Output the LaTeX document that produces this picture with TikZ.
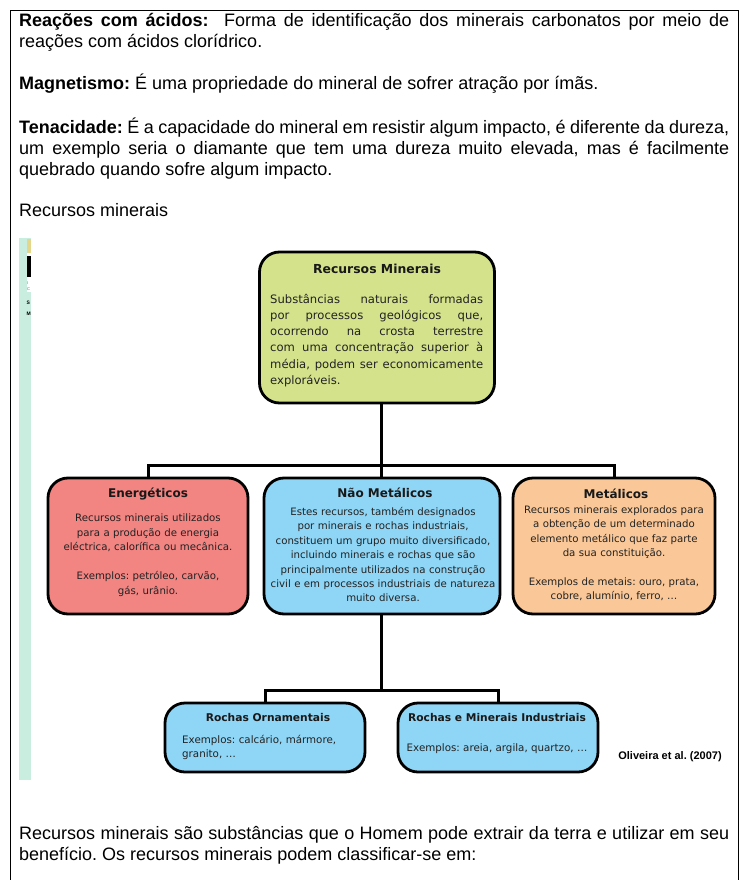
\documentclass[tikz,border=0pt]{standalone}
\usepackage{fontspec}
\setmainfont{Liberation Sans}
\newfontfamily\dv{DejaVu Sans}
\frenchspacing
\definecolor{cgreen}{HTML}{D5E28C}
\definecolor{cred}{HTML}{F28482}
\definecolor{cblue}{HTML}{8FD5F5}
\definecolor{cpeach}{HTML}{FAC898}
\definecolor{cmint}{HTML}{C9EEDF}
\definecolor{cyel}{HTML}{E4D68A}
\definecolor{ctxt}{HTML}{222222}
\begin{document}
\begin{tikzpicture}[x=1pt,y=-1pt,
  para/.style={anchor=base west, inner sep=0pt, text width=710pt, align=justify,
    font=\fontsize{18}{21}\selectfont\frenchspacing},
  box/.style={draw=black, line width=2.8pt, rounded corners=20pt, inner sep=0pt},
  ttl/.style={anchor=base, inner sep=0pt, font=\dv\bfseries\fontsize{12}{14}\selectfont, text=black!90},
  body/.style={anchor=base, inner sep=0pt, align=center, text=ctxt,
    font=\dv\fontsize{10.2}{14.4}\selectfont\frenchspacing},
  conn/.style={line width=3pt, draw=black}
]
\useasboundingbox (0,0) rectangle (747,880);
% frame
\draw[line width=1pt] (10.5,880) -- (10.5,10.5) -- (738,10.5) -- (738,880);

% top text
\node[para] (p1) at (19,27) {\textbf{Reações com ácidos:}\ \ Forma de identificação dos minerais carbonatos por meio de\linebreak reações com ácidos clorídrico.};
\node[para] (p2) at (19,90) {\textbf{Magnetismo:} É uma propriedade do mineral de sofrer atração por ímãs.};
\node[para] (p3) at (19,133) {\textbf{Tenacidade:} É a capacidade do mineral em resistir algum impacto, é diferente da dureza,\linebreak um exemplo seria o diamante que tem uma dureza muito elevada, mas é facilmente\linebreak quebrado quando sofre algum impacto.};
\node[para] (p4) at (19,216) {Recursos minerais};

% left strip of the picture
\fill[cmint] (19,238) rectangle (31,780);
\fill[white] (27,239) rectangle (31,292);
\fill[cyel] (27,239) rectangle (31,253);
\fill[black] (27,256) rectangle (31,277);
\node[anchor=base west, inner sep=0pt, font=\fontsize{4}{4}\selectfont, text=black!60] (s1) at (27,284) {I};
\node[anchor=base west, inner sep=0pt, font=\fontsize{4}{4}\selectfont, text=black!60] (s2) at (27,290) {C};
\node[anchor=base west, inner sep=0pt, font=\bfseries\fontsize{5}{5}\selectfont] (s3) at (26.5,304) {S};
\node[anchor=base west, inner sep=0pt, font=\bfseries\fontsize{5}{5}\selectfont] (s4) at (26.5,315) {M};

% boxes
\node[box, fill=cgreen, minimum width=235pt, minimum height=151pt] (rm) at (377,327.5) {};
\node[box, fill=cred, minimum width=200pt, minimum height=136pt] (en) at (148,546) {};
\node[box, fill=cblue, minimum width=236pt, minimum height=136pt] (nm) at (382,546) {};
\node[box, fill=cpeach, minimum width=202pt, minimum height=136pt] (me) at (614,546) {};
\node[box, fill=cblue, minimum width=200pt, minimum height=69pt] (ro) at (265,737.5) {};
\node[box, fill=cblue, minimum width=200pt, minimum height=69pt] (ri) at (498,737.5) {};

% connectors
\coordinate (b1) at (381,465);
\coordinate (b2) at (381,690);
\draw[conn] (rm.south -| b1) -- (b1);
\draw[conn] (en.north) |- (b1) -| (me.north);
\draw[conn] (b1) -- (nm.north -| b1);
\draw[conn] (nm.south -| b2) -- (b2);
\draw[conn] (ro.north) |- (b2) -| (ri.north);

% texts
\node[ttl, font=\dv\bfseries\fontsize{12.4}{14}\selectfont] (rmt) at (377,273.5) {Recursos Minerais};
\node[anchor=base west, inner sep=0pt, text width=213pt, align=justify, text=ctxt,
  font=\dv\fontsize{11.6}{16.3}\selectfont\frenchspacing] (rmb) at (270,303)
  {Substâncias naturais formadas\linebreak por processos geológicos que,\linebreak ocorrendo na crosta terrestre\linebreak com uma concentração superior à\linebreak média, podem ser economicamente\linebreak exploráveis.};

\node[ttl] (ent) at (148,497.5) {Energéticos};
\node[body, text width=196pt, font=\dv\fontsize{10.2}{14.5}\selectfont\frenchspacing] (enb) at (148,521.5)
  {Recursos minerais utilizados\\ para a produção de energia\\ eléctrica, calorífica ou mecânica.\\[14.5pt] Exemplos: petróleo, carvão,\\ gás, urânio.};

\node[ttl] (nmt) at (385,497.5) {Não Metálicos};
\node[body, text width=234pt] (nmb) at (383,515.5)
  {Estes recursos, também designados\\ por minerais e rochas industriais,\\ constituem um grupo muito diversificado,\\ incluindo minerais e rochas que são\\ principalmente utilizados na construção\\ civil e em processos industriais de natureza\\ muito diversa.};

\node[ttl] (met) at (616,498.5) {Metálicos};
\node[body, text width=198pt] (meb) at (614,513.5)
  {Recursos minerais explorados para\\ a obtenção de um determinado\\ elemento metálico que faz parte\\ da sua constituição.\\[14.3pt] Exemplos de metais: ouro, prata,\\ cobre, alumínio, ferro, \dots};

\node[ttl, font=\dv\bfseries\fontsize{10.7}{13}\selectfont] (rot) at (268,721) {Rochas Ornamentais};
\node[anchor=base west, inner sep=0pt, text width=175pt, align=left, text=ctxt, font=\dv\fontsize{10.3}{14}\selectfont\frenchspacing] (rob) at (182,743.5)
  {Exemplos: calcário, mármore,\\ granito, \dots};

\node[ttl, font=\dv\bfseries\fontsize{10.7}{13}\selectfont] (rit) at (497,721) {Rochas e Minerais Industriais};
\node[body, font=\dv\fontsize{10.3}{14}\selectfont\frenchspacing] (rib) at (497,751.5) {Exemplos: areia, argila, quartzo, \dots};

\node[anchor=base, inner sep=0pt, font=\bfseries\fontsize{11}{13}\selectfont\frenchspacing] (src) at (670,759) {Oliveira et al. (2007)};

% bottom text
\node[para] (p5) at (19,839) {Recursos minerais são substâncias que o Homem pode extrair da terra e utilizar em seu\linebreak benefício. Os recursos minerais podem classificar-se em:};
\end{tikzpicture}
\end{document}
